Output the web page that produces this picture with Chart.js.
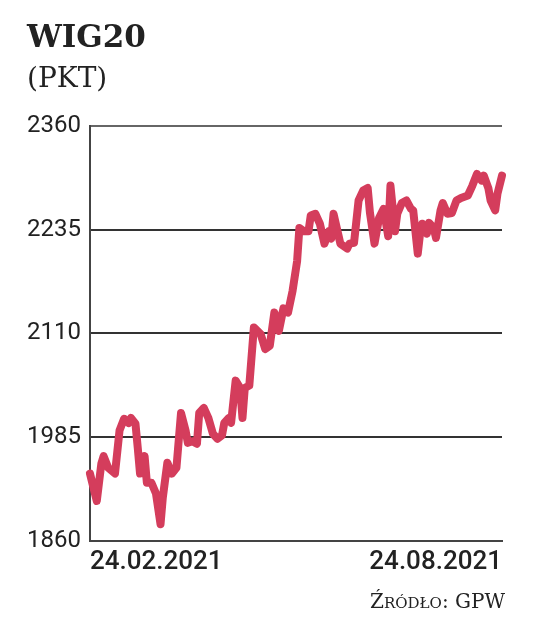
<!DOCTYPE html>
<html>
<head>
<meta charset="utf-8">
<script src="https://cdn.jsdelivr.net/npm/chart.js@4.4.1/dist/chart.umd.min.js"></script>
<style>
  html, body { margin: 0; padding: 0; background: #fff; }
  canvas { display: block; }
</style>
</head>
<body>
<canvas id="wig20" width="536" height="634"></canvas>
<script>
/* --------------- Data ---------------------------------------- */
// days counted from 24.02.2021
const days = [0, 3, 5, 6, 8, 11, 13, 15, 17, 18, 20, 21, 22, 24, 25, 27, 29, 31, 32, 34,
  36, 38, 40, 42, 43, 45, 47, 48, 50, 52, 54, 56, 58, 59, 61, 62, 64, 66, 67, 68,
  70, 72, 75, 77, 79, 81, 83, 85, 87, 89, 91, 92, 94, 96, 97, 99, 101, 103, 105, 106,
  107, 109, 110, 113, 114, 116, 118, 120, 122, 123, 125, 127, 129, 131, 132, 134, 135, 137, 139, 141,
  142, 144, 145, 146, 148, 149, 151, 152, 154, 155, 157, 159, 161, 163, 166, 168, 170, 172, 173, 175,
  176, 178, 179, 181];
const values = [1941, 1908, 1953, 1962, 1948, 1941, 1993, 2007, 2002, 2008, 2001, 1972, 1941, 1962, 1930, 1930, 1917, 1880, 1912, 1954,
  1941, 1948, 2014, 1993, 1978, 1980, 1977, 2014, 2020, 2008, 1989, 1983, 1987, 2002, 2008, 2002, 2053, 2044, 2008, 2044,
  2047, 2117, 2109, 2091, 2095, 2135, 2113, 2140, 2135, 2161, 2197, 2237, 2233, 2233, 2252, 2254, 2242, 2218, 2233, 2224,
  2254, 2230, 2218, 2212, 2218, 2219, 2270, 2282, 2285, 2255, 2218, 2249, 2260, 2227, 2288, 2233, 2254, 2267, 2270, 2260,
  2258, 2206, 2230, 2242, 2230, 2243, 2237, 2225, 2258, 2267, 2254, 2255, 2270, 2273, 2276, 2288, 2302, 2294, 2300, 2285,
  2270, 2258, 2278, 2300];
const xTickDays = [0, 181];
const xTickLabels = ["24.02.2021", "24.08.2021"];
const yTicks = [1860, 1985, 2110, 2235, 2360];

const title = "WIG20";
const unit = "(PKT)";
const sourceParts = [["Ź", 20], ["RÓDŁO", 15], [": GPW", 20]];

const sans = 'Roboto, "DejaVu Sans Condensed", sans-serif';
const serif = '"DejaVu Serif", "Liberation Serif", serif';

/* --------------- Source line under the chart --------------------- */
const sourcePlugin = {
  id: "source",
  afterDraw(chart) {
    const ctx = chart.ctx;
    ctx.save();
    ctx.fillStyle = "#222";
    ctx.textBaseline = "alphabetic";
    let widths = sourceParts.map(([t, s]) => {
      ctx.font = s + "px " + serif;
      return ctx.measureText(t).width;
    });
    let x = chart.chartArea.right + 3 - widths.reduce((a, b) => a + b, 0);
    sourceParts.forEach(([t, s], i) => {
      ctx.font = s + "px " + serif;
      ctx.fillText(t, x, 608);
      x += widths[i];
    });
    ctx.restore();
  },
};

new Chart(document.getElementById("wig20"), {
  type: "line",
  plugins: [sourcePlugin],
  data: {
    datasets: [
      {
        data: days.map((d, i) => ({ x: d, y: values[i] })),
        borderColor: "#d43d5c",
        borderWidth: 8,
        pointRadius: 0,
        borderJoinStyle: "round",
        borderCapStyle: "round",
        tension: 0,
        clip: 5,
      },
    ],
  },
  options: {
    responsive: false,
    animation: false,
    layout: { padding: { left: 27, right: 34, top: 20, bottom: 50 } },
    plugins: {
      legend: { display: false },
      tooltip: { enabled: false },
      title: {
        display: true,
        text: title,
        align: "start",
        color: "#222",
        font: { family: serif, size: 31, weight: "bold" },
        padding: { top: 0, bottom: 6 },
      },
      subtitle: {
        display: true,
        text: unit,
        align: "start",
        color: "#222",
        font: { family: serif, size: 28, weight: "normal" },
        padding: { top: 0, bottom: 29 },
      },
    },
    scales: {
      x: {
        type: "linear",
        min: xTickDays[0],
        max: xTickDays[xTickDays.length - 1],
        afterBuildTicks: (scale) => {
          scale.ticks = xTickDays.map((v) => ({ value: v }));
        },
        ticks: {
          align: "inner",
          maxRotation: 0,
          autoSkip: false,
          padding: 6,
          color: "#222",
          font: { family: sans, size: 26, weight: "500" },
          callback: (v, i) => xTickLabels[i],
        },
        grid: { color: "transparent", drawTicks: false },
        border: { display: true, color: "#444", width: 2 },
      },
      y: {
        min: yTicks[0],
        max: yTicks[yTicks.length - 1],
        afterBuildTicks: (scale) => {
          scale.ticks = yTicks.map((v) => ({ value: v }));
        },
        ticks: {
          padding: 4.5,
          crossAlign: "far",
          color: "#222",
          font: { family: sans, size: 24 },
          callback: (v) => String(v),
        },
        grid: {
          color: (c) => (c.tick && c.tick.value === yTicks[yTicks.length - 1] ? "#666" : "#333"),
          lineWidth: 2,
          drawTicks: false,
        },
        border: { display: true, color: "#444", width: 2 },
      },
    },
  },
});
</script>
</body>
</html>
